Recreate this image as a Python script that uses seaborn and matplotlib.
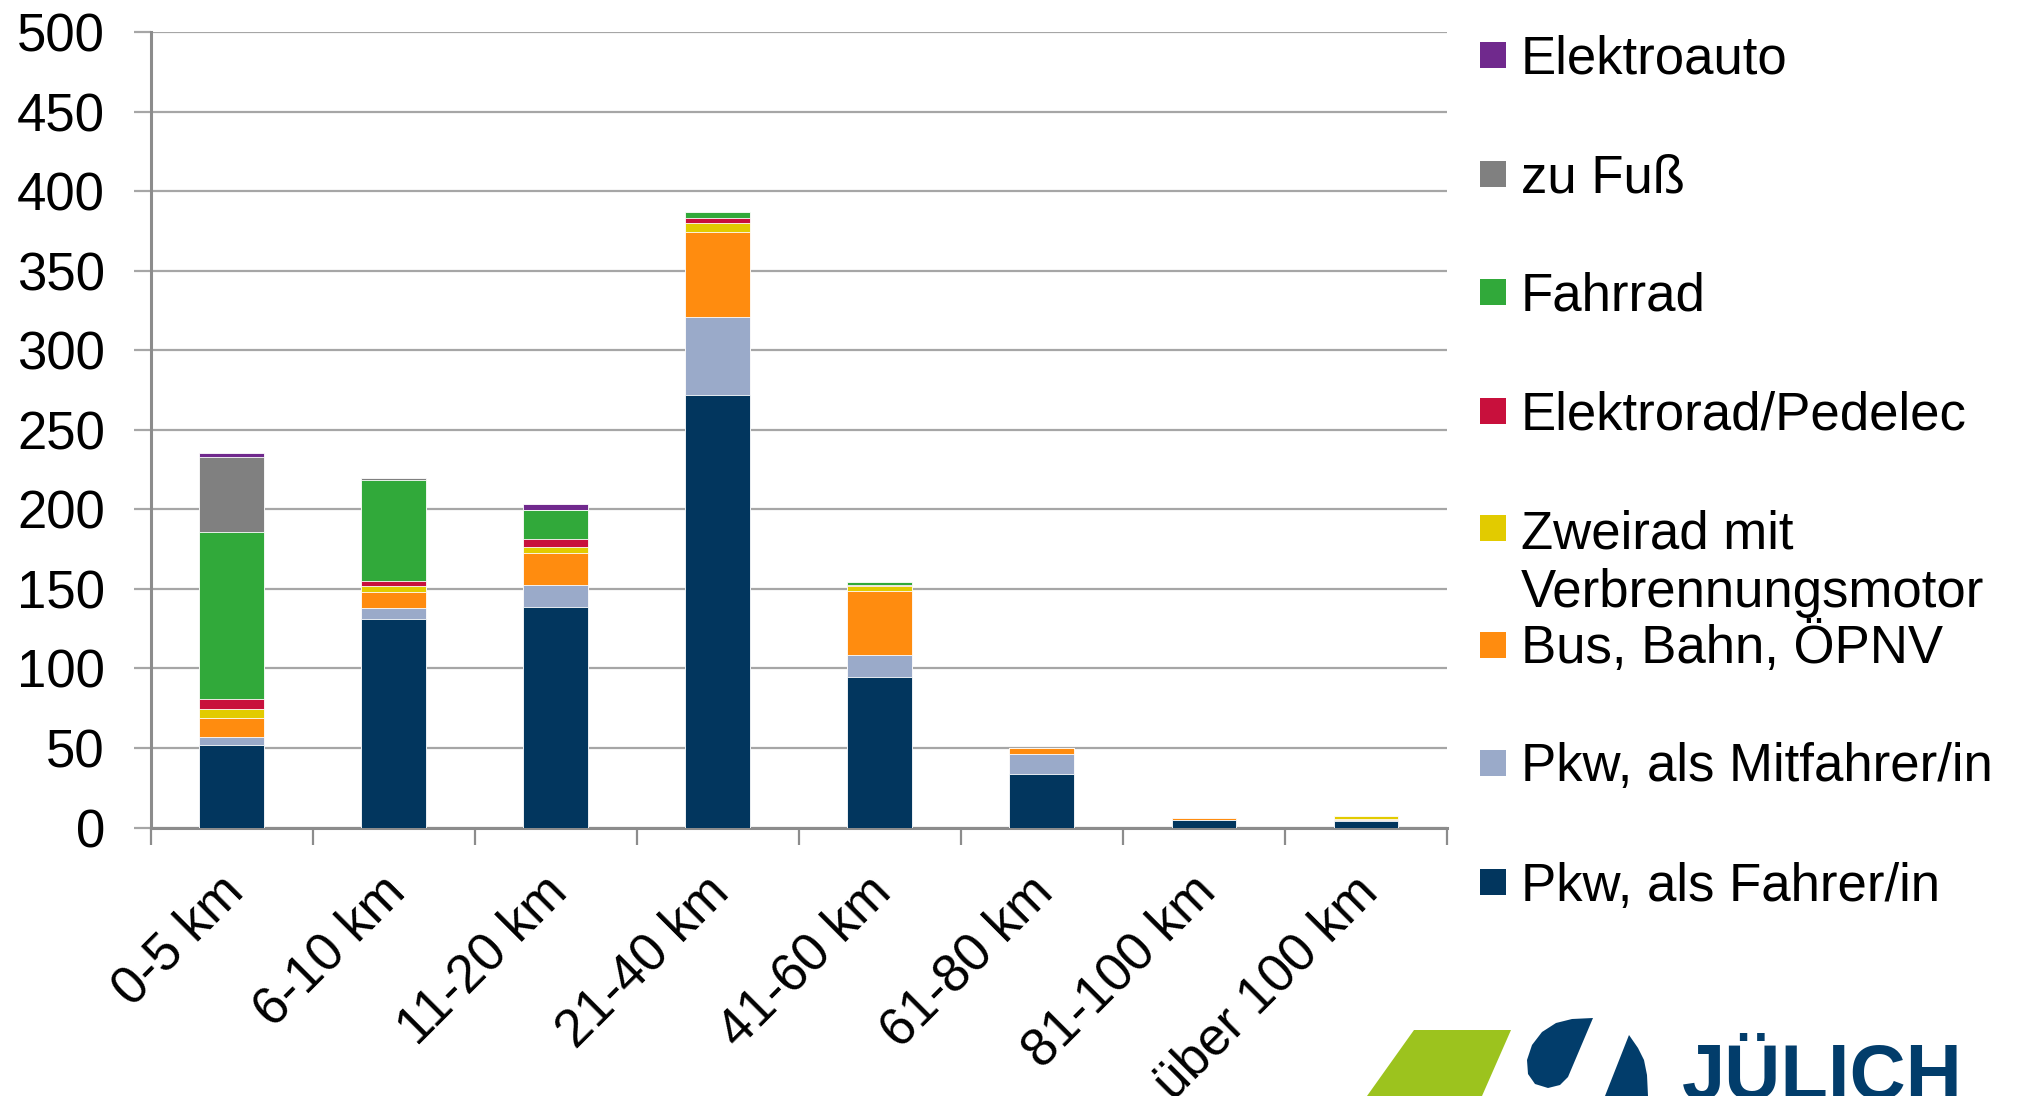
import numpy as np
import pandas as pd
import matplotlib
matplotlib.use("Agg")
import matplotlib.pyplot as plt
from matplotlib.patches import Rectangle, Polygon
from matplotlib.transforms import ScaledTranslation
import seaborn as sns

categories = ["0-5 km", "6-10 km", "11-20 km", "21-40 km", "41-60 km",
              "61-80 km", "81-100 km", "über 100 km"]

series_names = ["Pkw, als Fahrer/in", "Pkw, als Mitfahrer/in", "Bus, Bahn, ÖPNV",
                "Zweirad mit\nVerbrennungsmotor", "Elektrorad/Pedelec", "Fahrrad",
                "zu Fuß", "Elektroauto"]

pkw_fahrer     = [51.6, 130.9, 138.3, 271.6, 94.7, 33.6, 4.4, 3.8]
pkw_mitfahrer  = [5.0, 6.8, 14.2, 49.2, 13.9, 12.4, 0.3, 0.8]
bus_bahn       = [12.1, 10.1, 19.9, 53.2, 40.1, 3.8, 1.0, 1.0]
zweirad        = [5.9, 4.2, 4.1, 5.8, 3.2, 0.0, 0.0, 1.5]
pedelec        = [5.9, 2.9, 4.9, 3.0, 0.5, 0.0, 0.0, 0.0]
fahrrad        = [105.3, 63.8, 18.1, 3.8, 1.8, 0.0, 0.0, 0.0]
zu_fuss        = [47.0, 1.1, 0.0, 0.0, 0.0, 0.0, 0.0, 0.0]
elektroauto    = [2.9, 0.0, 4.1, 0.0, 0.0, 0.0, 0.0, 0.0]

colors = ["#02365E", "#9AAAC9", "#FF8C0F", "#E2CB00", "#C8103C",
          "#31A93A", "#808080", "#70298D"]

values = [pkw_fahrer, pkw_mitfahrer, bus_bahn, zweirad, pedelec,
          fahrrad, zu_fuss, elektroauto]

sns.set_theme(style="white")
plt.rcParams["font.family"] = ["Liberation Sans", "DejaVu Sans"]

W, H = 2018, 1096
fig = plt.figure(figsize=(W / 100, H / 100), dpi=100)
ax = fig.add_axes([150.6 / W, 1 - 827.5 / H, (1447 - 150.6) / W, (827.5 - 32) / H])

cum = np.cumsum(np.array(values), axis=0)
# draw from the top layer down so lower segments overlay the cumulative bars
for i in range(len(values) - 1, -1, -1):
    df = pd.DataFrame({"cat": categories, "val": cum[i]})
    sns.barplot(data=df, x="cat", y="val", order=categories, color=colors[i],
                saturation=1, width=0.4, errorbar=None, ax=ax,
                edgecolor="white", linewidth=0.6, zorder=3)

ax.set_xlabel("")
ax.set_ylabel("")
ax.set_xlim(-0.5, len(categories) - 0.5)
ax.set_ylim(0, 500)
ax.set_yticks(np.arange(0, 501, 50))
ax.yaxis.grid(True, color="#A6A6A6", linewidth=1.6, zorder=0)
ax.xaxis.grid(False)
ax.set_axisbelow(True)

for s in ["top", "right"]:
    ax.spines[s].set_visible(False)
for s in ["left", "bottom"]:
    ax.spines[s].set_color("#8C8C8C")
    ax.spines[s].set_linewidth(2.2)

ax.tick_params(axis="y", which="major", length=12, width=1.6, color="#A6A6A6",
               labelsize=38, pad=21, left=True, labelcolor="black")
ax.set_xticks(np.arange(len(categories)))
ax.set_xticklabels(categories, rotation=45, ha="right", va="top",
                   rotation_mode="anchor")
ax.tick_params(axis="x", which="major", length=0, labelsize=38, pad=28,
               labelcolor="black")
shift = ScaledTranslation(-14 / 100, 0, fig.dpi_scale_trans)
for lab in ax.get_xticklabels():
    lab.set_transform(lab.get_transform() + shift)
ax.set_xticks(np.arange(-0.5, len(categories), 1.0), minor=True)
ax.tick_params(axis="x", which="minor", length=12, width=1.6, color="#8C8C8C",
               bottom=True)


def fx(x):
    return x / W


def fy(y):
    return 1 - y / H


# legend (top entry = last series)
legend_y = [55, 174, 292, 411, 528, 645, 763, 882]
line_h = 60
for k, i in enumerate(range(len(values) - 1, -1, -1)):
    yc = legend_y[k]
    fig.patches.append(Rectangle((fx(1480), fy(yc + 13)), 26 / W, 26 / H,
                                 transform=fig.transFigure, facecolor=colors[i],
                                 edgecolor="none"))
    nlines = series_names[i].count("\n")
    fig.text(fx(1521), fy(yc + 18.5 + nlines * line_h), series_names[i],
             fontsize=38, va="baseline", ha="left", linespacing=1.2,
             color="black")

# logo (partially visible at the bottom edge)
fig.patches.append(Polygon([(fx(1414), fy(1030)), (fx(1511), fy(1030)),
                            (fx(1482), fy(1096)), (fx(1367), fy(1096))],
                           closed=True, transform=fig.transFigure,
                           facecolor="#9CC31E", edgecolor="none"))
drop = [(1593, 1018), (1572, 1019), (1556, 1023), (1542, 1032), (1532, 1045),
        (1527, 1060), (1528, 1074), (1535, 1084), (1548, 1088), (1560, 1085),
        (1568, 1077)]
fig.patches.append(Polygon([(fx(x), fy(y)) for x, y in drop], closed=True,
                           transform=fig.transFigure, facecolor="#023D6B",
                           edgecolor="none"))
right = [(1629, 1035), (1638, 1048), (1644, 1060), (1647, 1075), (1648, 1096),
         (1605, 1096)]
fig.patches.append(Polygon([(fx(x), fy(y)) for x, y in right], closed=True,
                           transform=fig.transFigure, facecolor="#023D6B",
                           edgecolor="none"))
fig.text(fx(1682), fy(1099), "JÜLICH", fontsize=56, fontweight="bold",
         color="#023D6B", va="baseline", ha="left")

fig.savefig("out.png", dpi=100)
